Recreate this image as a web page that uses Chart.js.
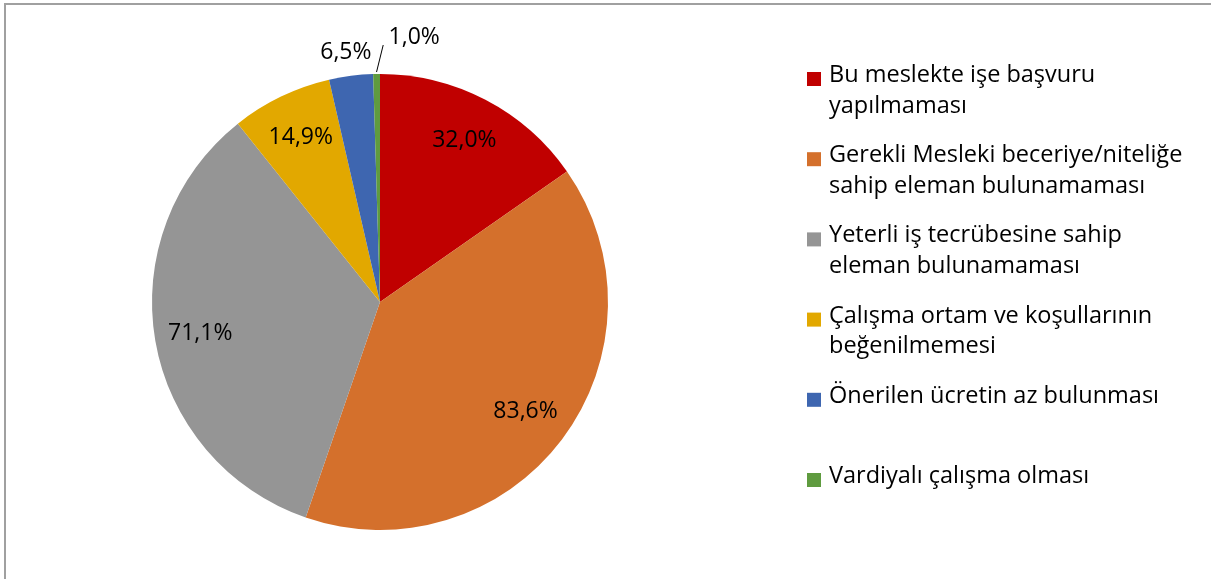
<!DOCTYPE html>
<html>
<head>
<meta charset="utf-8">
<script src="https://cdn.jsdelivr.net/npm/chart.js@4/dist/chart.umd.min.js"></script>
<style>
  body { margin: 0; background: #fff; }
  #wrap { position: relative; width: 1211px; height: 579px; }
</style>
</head>
<body>
<div id="wrap"><canvas id="chart" width="1211" height="579"></canvas></div>
<script>
// categories (legend text, already split the way the legend wraps them)
var categories = [
    ['Bu meslekte işe başvuru', 'yapılmaması'],
    ['Gerekli Mesleki beceriye/niteliğe', 'sahip eleman bulunamaması'],
    ['Yeterli iş tecrübesine sahip', 'eleman bulunamaması'],
    ['Çalışma ortam ve koşullarının', 'beğenilmemesi'],
    ['Önerilen ücretin az bulunması'],
    ['Vardiyalı çalışma olması']
];
// percentages shown on the slices
var values = [32.0, 83.6, 71.1, 14.9, 6.5, 1.0];
var colors = ['#C00000', '#D4702C', '#959595', '#E2A800', '#3E66B0', '#5F9B3F'];

function fmt(v) {
    return v.toFixed(1).replace('.', ',') + '%';
}

// outer frame like the office chart area
var framePlugin = {
    id: 'frame',
    beforeDraw: function(chart) {
        var ctx = chart.ctx;
        ctx.save();
        ctx.strokeStyle = '#a0a0a0';
        ctx.lineWidth = 2;
        ctx.beginPath();
        ctx.moveTo(5, chart.height + 5);
        ctx.lineTo(5, 4);
        ctx.lineTo(chart.width + 5, 4);
        ctx.stroke();
        ctx.restore();
    }
};

// value labels, inside for big slices, outside for the small ones
var labelPlugin = {
    id: 'sliceLabels',
    afterDatasetsDraw: function(chart) {
        var ctx = chart.ctx;
        var meta = chart.getDatasetMeta(0);
        var shiftX = [0, 0, 0, 0, -2, 38];
        ctx.save();
        ctx.font = '23px "Open Sans"';
        ctx.fillStyle = '#000';
        ctx.textAlign = 'center';
        ctx.textBaseline = 'middle';
        meta.data.forEach(function(arc, i) {
            var p = arc.getProps(['x', 'y', 'startAngle', 'endAngle', 'outerRadius'], true);
            var mid = (p.startAngle + p.endAngle) / 2;
            var v = values[i];
            var r = v >= 10 ? p.outerRadius * 0.8 : p.outerRadius + 24;
            var tx = p.x + Math.cos(mid) * r + shiftX[i];
            var ty = p.y + Math.sin(mid) * r;
            if (v < 10 && shiftX[i] > 20) {
                // leader line for the thin slice
                ty -= 13;
                ctx.strokeStyle = '#000';
                ctx.lineWidth = 1;
                ctx.beginPath();
                ctx.moveTo(p.x + Math.cos(mid) * (p.outerRadius + 2), p.y + Math.sin(mid) * (p.outerRadius + 2));
                ctx.lineTo(tx - 31, ty + 8);
                ctx.stroke();
            }
            ctx.fillText(fmt(v), tx, ty);
        });
        ctx.restore();
    }
};

// legend on the right with wrapped entries
var legendPlugin = {
    id: 'sideLegend',
    afterDraw: function(chart) {
        var ctx = chart.ctx;
        var labels = chart.data.labels;
        var bg = chart.data.datasets[0].backgroundColor;
        ctx.save();
        ctx.font = '23.5px "Open Sans"';
        ctx.fillStyle = '#000';
        ctx.textAlign = 'left';
        ctx.textBaseline = 'alphabetic';
        labels.forEach(function(lines, i) {
            var base = 82 + i * 80.2;
            ctx.fillStyle = bg[i];
            ctx.fillRect(807, base - 10, 14, 14);
            ctx.fillStyle = '#000';
            lines.forEach(function(line, j) {
                ctx.fillText(line, 829, base + j * 30.5);
            });
        });
        ctx.restore();
    }
};

var ctx = document.getElementById('chart');
var chart = new Chart(ctx, {
    type: 'pie',
    data: {
        labels: categories,
        datasets: [{
            data: values,
            backgroundColor: colors,
            borderWidth: 0
        }]
    },
    options: {
        responsive: false,
        animation: false,
        layout: {
            padding: { left: 152, right: 603, top: 74, bottom: 49 }
        },
        plugins: {
            legend: { display: false },
            tooltip: { enabled: false }
        }
    },
    plugins: [framePlugin, labelPlugin, legendPlugin]
});
</script>
</body>
</html>
